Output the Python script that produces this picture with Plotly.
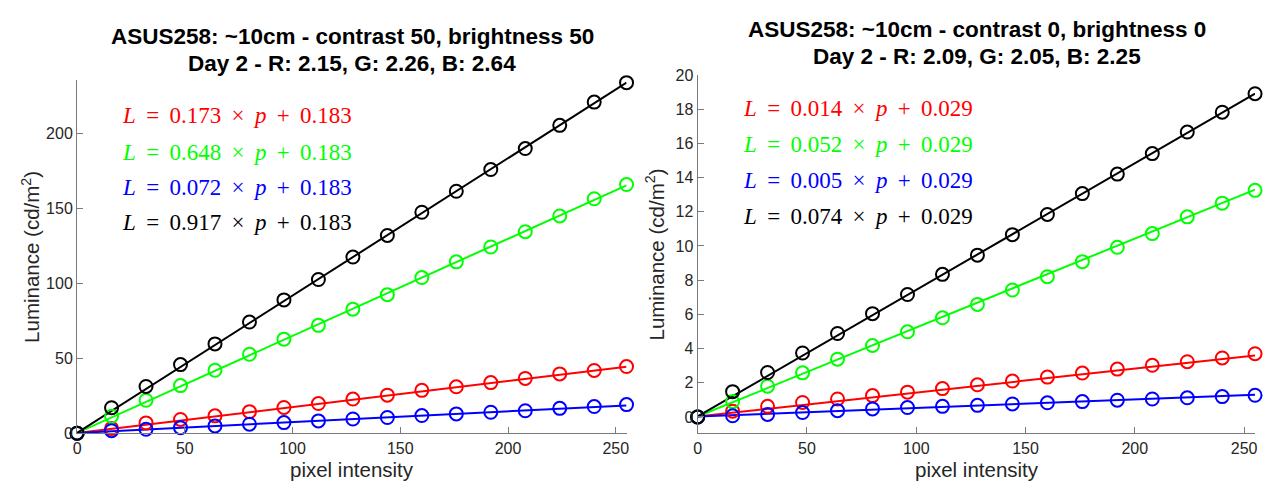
import plotly.graph_objects as go

W, H = 1264, 490

# ---------------- data ----------------
pixel = [0, 16, 32, 48, 64, 80, 96, 112, 128, 144, 160, 176, 192, 208, 224, 240, 255]

# left panel: contrast 50, brightness 50
L_red = [0, 3.2, 6.9, 9.2, 11.6, 14.4, 17.2, 19.8, 22.8, 25.4, 28.6, 31.0, 33.8, 36.6, 39.6, 41.9, 44.5]
L_green = [0, 11.4, 22.0, 31.8, 42.0, 52.7, 62.8, 72.0, 82.8, 92.5, 103.9, 114.4, 124.3, 134.5, 145.0, 156.5, 166.0]
L_blue = [0, 1.7, 2.6, 3.7, 4.9, 6.0, 7.1, 8.2, 9.5, 10.5, 11.8, 12.9, 14.0, 15.0, 16.6, 17.8, 19.1]
L_black = [0, 17.0, 31.2, 45.8, 59.6, 74.2, 89.0, 102.6, 117.6, 132.0, 147.5, 161.5, 176.0, 190.0, 205.5, 221.0, 234.0]
L_slopes = [0.173, 0.648, 0.072, 0.917]
L_intercept = 0.183

# right panel: contrast 0, brightness 0
R_red = [0, 0.34, 0.62, 0.85, 1.05, 1.25, 1.45, 1.66, 1.88, 2.10, 2.33, 2.57, 2.80, 3.02, 3.23, 3.45, 3.70]
R_green = [0, 0.90, 1.80, 2.58, 3.38, 4.18, 4.98, 5.80, 6.58, 7.42, 8.20, 9.08, 9.92, 10.72, 11.70, 12.50, 13.25]
R_blue = [0, 0.07, 0.15, 0.26, 0.37, 0.47, 0.55, 0.62, 0.68, 0.76, 0.83, 0.90, 0.98, 1.05, 1.12, 1.19, 1.27]
R_black = [0, 1.48, 2.60, 3.74, 4.88, 6.04, 7.16, 8.34, 9.46, 10.66, 11.84, 13.06, 14.20, 15.40, 16.66, 17.82, 18.90]
R_slopes = [0.014, 0.052, 0.005, 0.074]
R_intercept = 0.029

colors = ["#ff0000", "#00ff00", "#0000ff", "#000000"]

left_title = ["ASUS258: ~10cm - contrast 50, brightness 50", "Day 2 - R: 2.15, G: 2.26, B: 2.64"]
right_title = ["ASUS258: ~10cm - contrast 0, brightness 0", "Day 2 - R: 2.09, G: 2.05, B: 2.25"]
x_ticks = [0, 50, 100, 150, 200, 250]
left_y_ticks = [0, 50, 100, 150, 200]
right_y_ticks = [0, 2, 4, 6, 8, 10, 12, 14, 16, 18, 20]

x_label = "pixel intensity"
y_label = "Luminance (cd/m<sup>2</sup>)"

# ---------------- figure ----------------
def px(x):
    return x / W

def py(y):
    return 1 - y / H

fig = go.Figure()

panels = [
    ("x", "y", [L_red, L_green, L_blue, L_black], L_slopes, L_intercept),
    ("x2", "y2", [R_red, R_green, R_blue, R_black], R_slopes, R_intercept),
]

for xa, ya, series, slopes, icpt in panels:
    for vals, slope, col in zip(series, slopes, colors):
        xs = [pixel[0], pixel[-1]]
        fig.add_trace(go.Scatter(
            x=xs, y=[slope * v + icpt for v in xs], mode="lines",
            line=dict(color=col, width=2), xaxis=xa, yaxis=ya,
            showlegend=False, hoverinfo="skip", cliponaxis=False))
    for vals, col in zip(series, colors):
        fig.add_trace(go.Scatter(
            x=pixel, y=vals, mode="markers",
            marker=dict(symbol="circle-open", size=13, color=col, line=dict(width=2, color=col)),
            xaxis=xa, yaxis=ya, showlegend=False, cliponaxis=False))

axis_common = dict(
    showline=True, linecolor="#7a7a7a", linewidth=1.2, mirror=False,
    ticks="inside", ticklen=6, tickwidth=1, tickcolor="#7a7a7a",
    showgrid=False, zeroline=False,
    tickfont=dict(family="Liberation Sans, Arial, sans-serif", size=16, color="#262626"),
)

fig.update_layout(
    width=W, height=H, autosize=False,
    margin=dict(l=0, r=0, t=0, b=0),
    paper_bgcolor="white", plot_bgcolor="white",
    xaxis=dict(domain=[px(73.5), px(626)], range=[0, 255], tickvals=x_ticks, anchor="y", **axis_common),
    yaxis=dict(domain=[py(440.5), py(75)], range=[0, 235.5], tickvals=left_y_ticks, anchor="x", **axis_common),
    xaxis2=dict(domain=[px(697.5), px(1258)], range=[0, 255], tickvals=x_ticks, anchor="y2", **axis_common),
    yaxis2=dict(domain=[py(440.5), py(69.3)], range=[-0.95, 20], tickvals=right_y_ticks, anchor="x2", **axis_common),
)

ann = []
title_font = dict(family="Liberation Sans, Arial, sans-serif", size=22.5, color="#000000")
for lines, cx, ys in [(left_title, 350, (30, 57)), (right_title, 978, (22, 50))]:
    for txt, yy in zip(lines, ys):
        ann.append(dict(text="<b>" + txt + "</b>", x=px(cx), y=py(yy), xref="paper", yref="paper",
                        xanchor="center", yanchor="middle", showarrow=False, font=title_font))

label_font = dict(family="Liberation Sans, Arial, sans-serif", size=20.5, color="#262626")
for cx in (350, 978):
    ann.append(dict(text=x_label, x=px(cx), y=py(478), xref="paper", yref="paper",
                    xanchor="center", yanchor="middle", showarrow=False, font=label_font))
for cx, cy in ((27, 258), (655, 255)):
    ann.append(dict(text=y_label, x=px(cx), y=py(cy), xref="paper", yref="paper", textangle=-90,
                    xanchor="center", yanchor="middle", showarrow=False, font=label_font))

eq_font_family = "Liberation Serif, DejaVu Serif, serif"
sp = "\u2009"
for xa, ya, slopes, icpt, ylist in [("x", "y", L_slopes, L_intercept, (0.90, 0.797, 0.696, 0.596)),
                                    ("x2", "y2", R_slopes, R_intercept, (0.907, 0.805, 0.704, 0.604))]:
    for slope, col, yy in zip(slopes, colors, ylist):
        txt = ("<i>L</i>" + sp + " = " + sp + "%.3f" + sp + " \u00d7 " + sp + "<i>p</i>" + sp + " + " + sp + "%.3f") % (slope, icpt)
        ann.append(dict(text=txt, x=20, y=yy, xref=xa, yref=ya + " domain",
                        xanchor="left", yanchor="middle", showarrow=False,
                        font=dict(family=eq_font_family, size=23, color=col)))

fig.update_layout(annotations=ann)
fig.write_html(
    "out.html",
    config={"displayModeBar": False},
    post_script="document.body.style.margin='0';document.body.style.padding='0';document.body.style.overflow='hidden';",
)
